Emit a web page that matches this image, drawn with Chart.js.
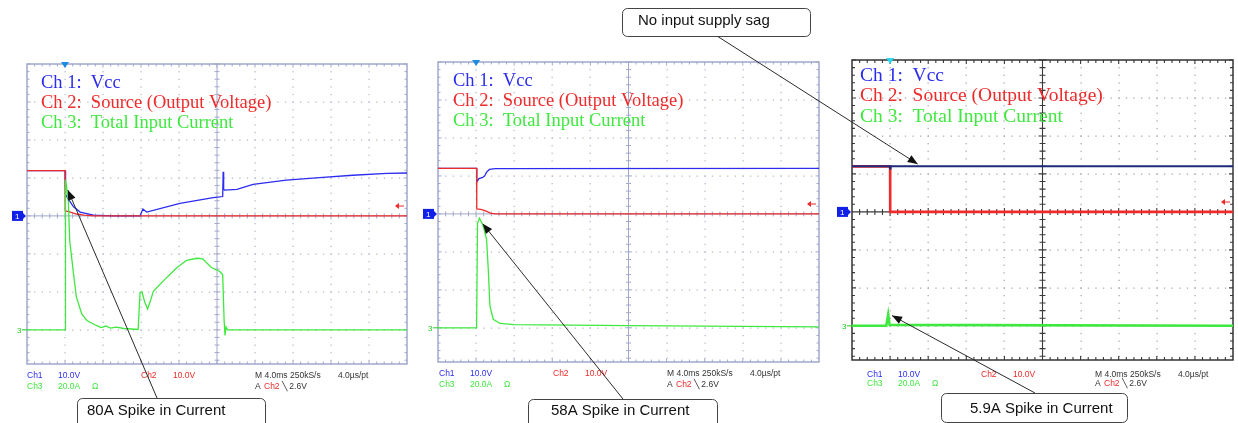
<!DOCTYPE html>
<html>
<head>
<meta charset="utf-8">
<script src="https://cdn.jsdelivr.net/npm/chart.js@4.4.1/dist/chart.umd.min.js"></script>
<style>
  html, body { margin: 0; padding: 0; background: #fff; }
  #wrap { position: relative; width: 1238px; height: 423px; overflow: hidden; }
  #wrap canvas { position: absolute; left: 0; top: 0; }
</style>
</head>
<body>
<div id="wrap">
  <canvas id="scope1" width="1238" height="423"></canvas>
  <canvas id="scope2" width="1238" height="423"></canvas>
  <canvas id="scope3" width="1238" height="423"></canvas>
</div>
<script>
// ===== 示波器截图数据 (时间 ms, 电压 V, 电流 A) =====
// 4 ms/div, Ch1/Ch2 10 V/div, Ch3 20 A/div

const xGridMs = [0, 4, 8, 12, 16, 20, 24, 28, 32, 36, 40];
const yGridV = [-30, -20, -10, 0, 10, 20, 30, 40];

const channelLabels = ['Ch 1:  Vcc', 'Ch 2:  Source (Output Voltage)', 'Ch 3:  Total Input Current'];
const footerRow1 = ['Ch1', '10.0V', 'Ch2', '10.0V', 'M 4.0ms 250kS/s', '4.0\u00b5s/pt'];
const footerRow2 = ['Ch3', '20.0A', '\u03a9', 'A', 'Ch2', '\u2572 2.6V'];
const triggerMs = 4;
const triggerLevelV = 2.6;

// --- 第一张: 80A 冲击 ---
const p1VccT = [0, 4.0, 4.02, 4.1, 4.35, 4.9, 5.6, 7.0, 9.0, 11.9, 12.2, 12.6, 16.1, 19.6, 20.6, 20.65, 20.7, 20.8, 22.1, 23.8, 27.3, 30.8, 34.3, 37.9, 40];
const p1VccV = [11.9, 11.9, 6.8, 5.6, 4.4, 2.4, 1.0, 0.2, 0.0, 0.0, 1.8, 1.0, 3.3, 4.8, 5.1, 11.6, 7.0, 6.8, 7.0, 8.3, 9.4, 10.1, 10.7, 11.2, 11.3];
const p1SrcT = [0, 4.0, 4.02, 4.4, 5.2, 6.0, 7.0, 40];
const p1SrcV = [11.9, 11.9, 1.3, 1.1, 0.5, 0.2, 0.0, 0.0];
const p1CurT = [0, 4.0, 4.05, 4.15, 4.35, 4.5, 4.9, 5.2, 5.76, 6.3, 7.3, 7.8, 8.3, 8.8, 9.4, 10.2, 11.7, 11.9, 12.1, 12.4, 12.7, 13.0, 13.3, 14.35, 15.8, 16.8, 17.9, 18.5, 19.4, 20.3, 20.6, 20.75, 20.85, 20.95, 21.1, 40];
const p1CurA = [0, 0, 79, 76, 67.7, 46.8, 29.3, 17.3, 8.4, 4.9, 2.3, 1.2, 2.0, 0.9, 1.4, 0.7, 0.2, 19.7, 20.0, 14.5, 11.0, 15.4, 20.3, 25.8, 32.8, 36.6, 37.7, 37.4, 32.8, 30.7, 29.0, 4.9, -3.0, 1.5, 0, 0];

// --- 第二张: 58A 冲击 ---
const p2VccT = [0, 4.05, 4.07, 4.3, 4.7, 4.9, 5.1, 5.4, 6.0, 40];
const p2VccV = [12.0, 12.0, 8.4, 9.3, 9.6, 10.0, 11.0, 11.7, 11.9, 12.0];
const p2SrcT = [0, 4.05, 4.07, 4.5, 5.0, 5.5, 6.0, 40];
const p2SrcV = [12.0, 12.0, 1.3, 1.2, 0.8, 0.2, 0.0, 0.0];
const p2CurT = [0, 4.05, 4.15, 4.35, 4.75, 5.1, 5.28, 5.45, 5.8, 6.5, 8.0, 20.0, 40];
const p2CurA = [0, 0, 55, 57.7, 53.6, 46.6, 30.6, 11.5, 4.5, 2.3, 1.7, 1.2, 0.5];

// --- 第三张: 5.9A 冲击 ---
const p3VccT = [0, 3.95, 4.0, 4.05, 40];
const p3VccV = [12.0, 12.0, 11.4, 12.0, 12.0];
const p3SrcT = [0, 4.0, 4.01, 40];
const p3SrcV = [12.0, 12.0, 0.0, 0.0];
const p3CurT = [0, 3.6, 3.8, 3.95, 40];
const p3CurA = [0, 0, 5.9, 0.5, 0];

const BLUE = '#2b2cf0', RED = '#ee2a2a', GREEN = '#3fe83f', NAVY = '#1e2a7c';

function pts(t, v) {
  return t.map((x, i) => ({ x: x, y: v[i] }));
}

// 示波器网格 / 文字 插件
const scopePlugin = {
  id: 'scope',
  beforeDatasetsDraw(chart, args, o) {
    const ctx = chart.ctx;
    const { left, right, top, bottom } = chart.chartArea;
    const x = chart.scales.x, y = chart.scales.yV;
    const divX = x.getPixelForValue(4) - x.getPixelForValue(0);
    const divY = y.getPixelForValue(0) - y.getPixelForValue(10);
    const cx = x.getPixelForValue(20), cy = y.getPixelForValue(0);
    ctx.save();
    // 点状网格
    ctx.fillStyle = o.dotColor;
    xGridMs.forEach(t => {
      if (t === 0 || t === 20 || t === 40) return;
      const px = Math.round(x.getPixelForValue(t));
      for (let k = -25; k <= 25; k++) {
        const py = cy + k * divY / 5;
        if (py > top + 2 && py < bottom - 2) ctx.fillRect(px - 0.5, py - 0.5, 1.3, 1.3);
      }
    });
    yGridV.forEach(v => {
      if (v === 0 || v === 40) return;
      const py = Math.round(y.getPixelForValue(v));
      for (let k = -30; k <= 30; k++) {
        const px = cx + k * divX / 5;
        if (px > left + 2 && px < right - 2) ctx.fillRect(px - 0.5, py - 0.5, 1.3, 1.3);
      }
    });
    // 中心十字线和刻度
    ctx.strokeStyle = o.axisColor;
    ctx.lineWidth = o.axisWidth;
    ctx.beginPath();
    ctx.moveTo(left, cy); ctx.lineTo(right, cy);
    ctx.moveTo(cx, top); ctx.lineTo(cx, bottom);
    for (let k = -30; k <= 30; k++) {
      const px = cx + k * divX / 5;
      if (px <= left || px >= right) continue;
      const len = k % 5 === 0 ? o.tick + 1 : o.tick;
      ctx.moveTo(px, cy - len); ctx.lineTo(px, cy + len);
      ctx.moveTo(px, top); ctx.lineTo(px, top + len);
      ctx.moveTo(px, bottom); ctx.lineTo(px, bottom - len);
    }
    for (let k = -25; k <= 25; k++) {
      const py = cy + k * divY / 5;
      if (py <= top || py >= bottom) continue;
      const len = k % 5 === 0 ? o.tick + 1 : o.tick;
      ctx.moveTo(cx - len, py); ctx.lineTo(cx + len, py);
      ctx.moveTo(left, py); ctx.lineTo(left + len, py);
      ctx.moveTo(right, py); ctx.lineTo(right - len, py);
    }
    ctx.stroke();
    // 外框
    ctx.strokeStyle = o.frameColor;
    ctx.lineWidth = o.frameWidth;
    ctx.strokeRect(left, top, right - left, bottom - top);
    ctx.restore();
  },
  afterDatasetsDraw(chart, args, o) {
    const ctx = chart.ctx;
    const { left, right, top, bottom } = chart.chartArea;
    const x = chart.scales.x, yV = chart.scales.yV, yA = chart.scales.yA;
    ctx.save();
    // 通道说明
    ctx.font = o.legendSize + 'px "Liberation Serif"';
    ctx.textBaseline = 'middle';
    const lc = [BLUE, RED, GREEN];
    channelLabels.forEach((s, i) => {
      ctx.fillStyle = lc[i];
      ctx.fillText(s, left + o.legendDx, top + o.legendDy[i]);
    });
    // 触发位置标记
    const tx = x.getPixelForValue(triggerMs);
    ctx.fillStyle = o.trigColor;
    ctx.beginPath();
    ctx.moveTo(tx - 4, top - 2); ctx.lineTo(tx + 4, top - 2); ctx.lineTo(tx, top + 4);
    ctx.closePath(); ctx.fill();
    // Ch1 零点标记
    const zy = yV.getPixelForValue(0);
    ctx.fillStyle = '#1020e8';
    ctx.fillRect(left - 15, zy - 5, 11, 10);
    ctx.beginPath();
    ctx.moveTo(left - 4, zy - 3); ctx.lineTo(left - 1, zy); ctx.lineTo(left - 4, zy + 3);
    ctx.fill();
    ctx.fillStyle = '#fff';
    ctx.font = '8px "Liberation Sans"';
    ctx.fillText('1', left - 12, zy + 0.5);
    // Ch3 基线标记
    const gy = yA.getPixelForValue(0);
    ctx.fillStyle = '#22cc22';
    ctx.fillText('3', left - 10, gy + 0.5);
    ctx.strokeStyle = '#22cc22';
    ctx.lineWidth = 1;
    ctx.beginPath();
    ctx.moveTo(left - 5, gy); ctx.lineTo(left, gy);
    ctx.stroke();
    // 触发电平箭头
    const ly = yV.getPixelForValue(triggerLevelV);
    ctx.strokeStyle = RED; ctx.fillStyle = RED;
    ctx.beginPath();
    ctx.moveTo(right - 3, ly); ctx.lineTo(right - 10, ly);
    ctx.stroke();
    ctx.beginPath();
    ctx.moveTo(right - 12, ly); ctx.lineTo(right - 8, ly - 3); ctx.lineTo(right - 8, ly + 3);
    ctx.fill();
    // 底部参数
    ctx.font = '8.5px "Liberation Sans"';
    const r1 = [0, 31, 114, 146, 228, 311];
    const c1 = [BLUE, BLUE, RED, RED, '#333', '#333'];
    footerRow1.forEach((s, i) => {
      ctx.fillStyle = c1[i];
      ctx.fillText(s, left + o.footDx + r1[i], bottom + o.footDy[0]);
    });
    const r2 = [0, 31, 65, 228, 237, 255];
    const c2 = [GREEN, GREEN, GREEN, '#333', RED, '#333'];
    footerRow2.forEach((s, i) => {
      ctx.fillStyle = c2[i];
      ctx.fillText(s, left + o.footDx + r2[i], bottom + o.footDy[1]);
    });
    ctx.restore();
  }
};

// 标注框和箭头
const calloutPlugin = {
  id: 'callouts',
  afterDraw(chart, args, o) {
    const ctx = chart.ctx;
    ctx.save();
    (o.items || []).forEach(c => {
      const tipX = chart.scales.x.getPixelForValue(c.tip[0]);
      const tipY = chart.scales[c.axis].getPixelForValue(c.tip[1]);
      const [fx, fy] = c.from;
      // 连线
      ctx.strokeStyle = '#2a2a2a';
      ctx.lineWidth = 1;
      ctx.beginPath();
      ctx.moveTo(fx, fy); ctx.lineTo(tipX, tipY);
      ctx.stroke();
      const ang = Math.atan2(tipY - fy, tipX - fx);
      ctx.fillStyle = '#111';
      ctx.beginPath();
      ctx.moveTo(tipX, tipY);
      ctx.lineTo(tipX - 10 * Math.cos(ang) + 4 * Math.sin(ang), tipY - 10 * Math.sin(ang) - 4 * Math.cos(ang));
      ctx.lineTo(tipX - 10 * Math.cos(ang) - 4 * Math.sin(ang), tipY - 10 * Math.sin(ang) + 4 * Math.cos(ang));
      ctx.closePath(); ctx.fill();
      // 圆角框
      const [bx, by, bw, bh] = c.box;
      ctx.fillStyle = '#fff';
      ctx.strokeStyle = '#444';
      ctx.beginPath();
      ctx.roundRect(bx + 0.5, by + 0.5, bw, bh, 5);
      ctx.fill(); ctx.stroke();
      ctx.fillStyle = '#111';
      ctx.font = '15px "Liberation Sans"';
      ctx.textBaseline = 'middle';
      ctx.fillText(c.text, c.textAt[0], c.textAt[1]);
    });
    ctx.restore();
  }
};

function makeScope(id, area, series, scopeOpts, callouts) {
  return new Chart(document.getElementById(id), {
    type: 'line',
    data: { datasets: series },
    options: {
      responsive: false,
      animation: false,
      devicePixelRatio: 1,
      layout: { padding: { left: area[0], top: area[1], right: 1238 - area[2], bottom: 423 - area[3] } },
      elements: { line: { tension: 0 }, point: { radius: 0 } },
      plugins: {
        legend: { display: false },
        tooltip: { enabled: false },
        scope: scopeOpts,
        callouts: { items: callouts }
      },
      scales: {
        x: { type: 'linear', display: false, min: 0, max: 40 },
        yV: { type: 'linear', display: false, min: -39, max: 40 },
        yA: { type: 'linear', display: false, min: -18, max: 140 }
      }
    },
    plugins: [scopePlugin, calloutPlugin]
  });
}

const lightScope = {
  dotColor: '#b8bccf', axisColor: '#a2a8cb', axisWidth: 1, frameColor: '#a0a7cc', frameWidth: 1.5,
  tick: 2.5, trigColor: '#1b8be0', legendSize: 18.5, legendDx: 14, legendDy: [19, 39, 59],
  footDx: 0, footDy: [12, 23]
};

makeScope('scope1', [27, 64, 407, 364], [
  { label: 'Ch 3', data: pts(p1CurT, p1CurA), yAxisID: 'yA', borderColor: GREEN, borderWidth: 1.3, order: 0 },
  { label: 'Ch 2', data: pts(p1SrcT, p1SrcV), yAxisID: 'yV', borderColor: RED, borderWidth: 1.3, order: 1 },
  { label: 'Ch 1', data: pts(p1VccT, p1VccV), yAxisID: 'yV', borderColor: BLUE, borderWidth: 1.3, order: 2 }
], lightScope, [
  { text: '80A Spike in Current', box: [77, 398, 188, 32], textAt: [87, 411], from: [157, 398], tip: [4.3, 6.8], axis: 'yV' }
]);

makeScope('scope2', [438, 62, 819, 362], [
  { label: 'Ch 3', data: pts(p2CurT, p2CurA), yAxisID: 'yA', borderColor: GREEN, borderWidth: 1.3, order: 0 },
  { label: 'Ch 2', data: pts(p2SrcT, p2SrcV), yAxisID: 'yV', borderColor: RED, borderWidth: 1.3, order: 1 },
  { label: 'Ch 1', data: pts(p2VccT, p2VccV), yAxisID: 'yV', borderColor: BLUE, borderWidth: 1.3, order: 2 }
], Object.assign({}, lightScope, { legendDx: 15, footDx: 1 }), [
  { text: '58A Spike in Current', box: [528, 399, 189, 32], textAt: [551, 411], from: [623, 399], tip: [4.7, 54.8], axis: 'yA' }
]);

makeScope('scope3', [852, 60, 1233, 360], [
  { label: 'Ch 1', data: pts(p3VccT, p3VccV), yAxisID: 'yV', borderColor: NAVY, borderWidth: 2, order: 0 },
  { label: 'Ch 3', data: pts(p3CurT, p3CurA), yAxisID: 'yA', borderColor: GREEN, borderWidth: 2.6, order: 1 },
  { label: 'Ch 2', data: pts(p3SrcT, p3SrcV), yAxisID: 'yV', borderColor: RED, borderWidth: 2.6, order: 2 }
], Object.assign({}, lightScope, {
  dotColor: '#a9acb8', axisColor: '#3a3a3a', axisWidth: 1.1, frameColor: '#333', frameWidth: 1.5,
  tick: 3, trigColor: '#2ad8ee', legendSize: 19.5, legendDx: 8, legendDy: [16, 36, 57], footDx: 15, footDy: [15, 24]
}), [
  { text: '5.9A Spike in Current', box: [941, 393, 186, 29], textAt: [970, 409], from: [1035, 393], tip: [4.2, 5.4], axis: 'yA' },
  { text: 'No input supply sag', box: [622, 8, 188, 28], textAt: [638, 21], from: [717, 36], tip: [6.9, 12.6], axis: 'yV' }
]);
</script>
</body>
</html>
